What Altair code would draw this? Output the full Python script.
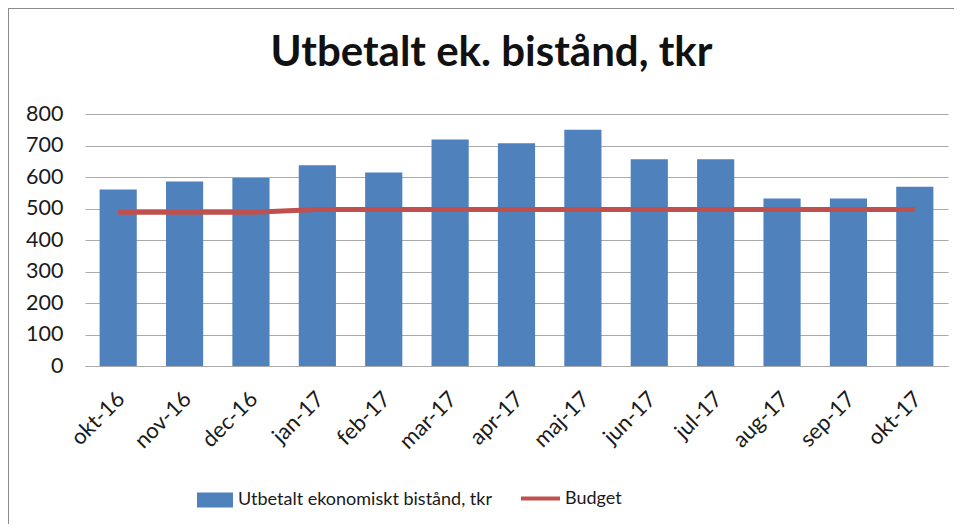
import altair as alt
import pandas as pd

months = ["okt-16", "nov-16", "dec-16", "jan-17", "feb-17", "mar-17", "apr-17",
          "maj-17", "jun-17", "jul-17", "aug-17", "sep-17", "okt-17"]
paid = [560, 586, 597, 637, 614, 719, 707, 750, 656, 656, 532, 532, 569]
budget = [488, 488, 488, 497, 497, 497, 497, 497, 497, 497, 497, 497, 497]
y_ticks = [0, 100, 200, 300, 400, 500, 600, 700, 800]

bar_name = "Utbetalt ekonomiskt  bistånd, tkr"
line_name = "Budget"

df = pd.DataFrame({"month": months, "paid": paid, "budget": budget,
                   "s1": bar_name, "s2": line_name})

FONT = "Lato"
W, H = 863, 252

x_axis = alt.Axis(labelAngle=-45, labelAlign="right", labelBaseline="middle",
                  labelPadding=29, labelOffset=3, labelFontSize=22, labelFont=FONT,
                  labelColor="#1a1a1a", ticks=False, domain=True,
                  domainColor="#a9a9a9", domainWidth=1.2, grid=False,
                  labelOverlap=False)
y_axis = alt.Axis(values=y_ticks, labelFontSize=21.5,
                  labelFont=FONT, labelColor="#1a1a1a", labelPadding=22,
                  ticks=False, domain=False, grid=True, labelOverlap=False,
                  gridColor="#a9a9a9", gridWidth=1.2)
x_scale = alt.Scale(paddingInner=0.44, paddingOuter=0.22)
y_scale = alt.Scale(domain=[0, 800], nice=False)

bars = alt.Chart(df).mark_bar(color="#4f81bd").encode(
    x=alt.X("month:N", sort=months, title=None, scale=x_scale, axis=x_axis),
    y=alt.Y("paid:Q", title=None, scale=y_scale, axis=y_axis),
    fill=alt.Fill("s1:N", scale=alt.Scale(domain=[bar_name], range=["#4f81bd"]),
                  legend=alt.Legend(title=None, orient="none", legendX=112, legendY=368,
                                    symbolType="M-1,-0.42L1,-0.42L1,0.42L-1,0.42Z",
                                    symbolSize=1296, symbolStrokeWidth=0,
                                    labelFontSize=18, labelFont=FONT, labelLimit=0,
                                    labelColor="#1a1a1a", labelOffset=5)),
)

line = alt.Chart(df).mark_line(strokeWidth=5).encode(
    x=alt.X("month:N", sort=months, title=None, scale=x_scale, axis=x_axis),
    y=alt.Y("budget:Q", title=None, scale=y_scale, axis=y_axis),
    stroke=alt.Stroke("s2:N", scale=alt.Scale(domain=[line_name], range=["#c0504d"]),
                      legend=alt.Legend(title=None, orient="none", legendX=434, legendY=363,
                                        symbolType="stroke", symbolSize=1521,
                                        symbolStrokeWidth=4, labelLimit=0,
                                        labelFontSize=18, labelFont=FONT,
                                        labelColor="#1a1a1a", labelOffset=3)),
)

frame = alt.Chart(df).mark_rect(fill=None, stroke="#8c8c8c", strokeWidth=2).encode(
    x=alt.value(-77), x2=alt.value(W + 40), y=alt.value(-106), y2=alt.value(H + 200)
)

chart = alt.layer(frame, bars, line).properties(
    width=W, height=H,
    title=alt.TitleParams("Utbetalt ek. bistånd, tkr", font=FONT, fontSize=42,
                          fontWeight="bold", color="#111", anchor="middle",
                          frame="group", baseline="alphabetic", offset=-59, dy=42, dx=-25),
    autosize=alt.AutoSizeParams(type="none"),
    padding={"left": 77, "top": 106, "right": 6, "bottom": 158},
).resolve_scale(fill="independent", stroke="independent").configure_view(stroke=None)

chart.save("out.html", embed_options={"renderer": "svg", "actions": False})
